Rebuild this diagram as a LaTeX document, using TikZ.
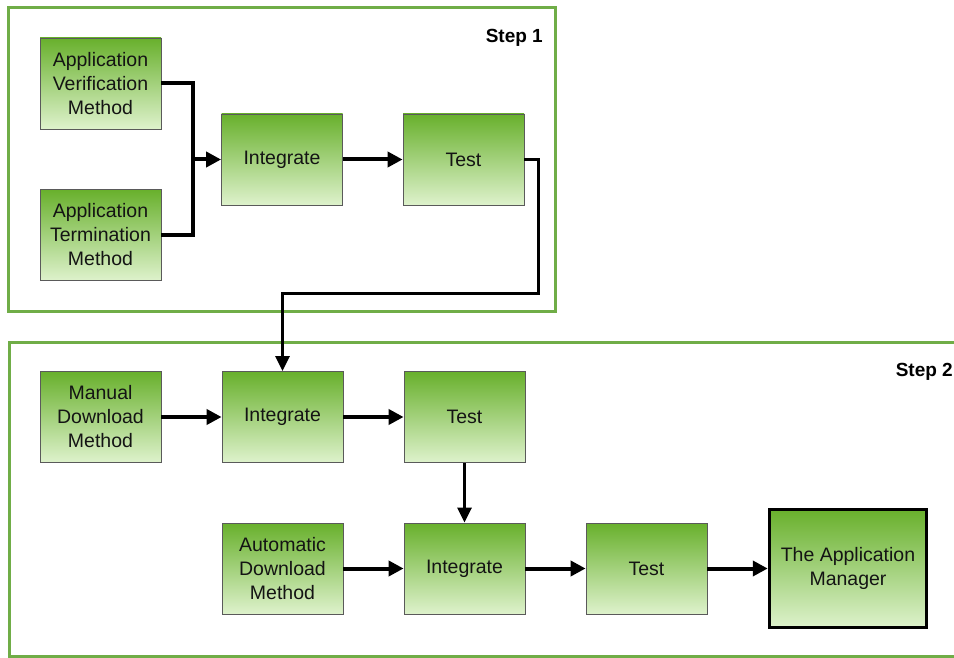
\documentclass[tikz,border=0pt]{standalone}
\usepackage{fontspec}
\setmainfont{Liberation Sans}
\usetikzlibrary{arrows.meta}
\definecolor{framegreen}{RGB}{112,173,71}
\definecolor{boxtop}{RGB}{104,176,44}
\definecolor{boxbottom}{RGB}{222,242,204}
\definecolor{boxedge}{RGB}{90,90,90}
\definecolor{ink}{RGB}{20,20,20}
\tikzset{
  stepbox/.style={rectangle, draw=boxedge, line width=0.8pt,
    top color=boxtop, bottom color=boxbottom,
    minimum width=121pt, minimum height=91pt, inner sep=2pt,
    align=center, text=ink,
    font=\fontsize{19.5}{24}\selectfont},
  goalbox/.style={stepbox, draw=black, line width=3.5pt,
    minimum width=157pt, minimum height=118pt},
  frame/.style={draw=framegreen, line width=3pt},
  steplabel/.style={font=\bfseries\fontsize{19}{21}\selectfont, text=black, inner sep=0pt},
  feed/.style={draw=black, line width=4pt},
  flow/.style={feed, -{Triangle[length=15pt,width=15pt]}},
  link/.style={draw=black, line width=3pt, -{Triangle[length=15pt,width=14pt]}}
}
\begin{document}
\begin{tikzpicture}[x=1pt,y=-1pt]
\useasboundingbox (0,0) rectangle (954,658);

% Step 1 and Step 2 frames
\draw[frame] (8,8) rectangle (555,311);
\draw[frame] (975,342) -- (9,342) -- (9,656) -- (975,656);
\node[steplabel, anchor=north east] (s1) at (543,29) {Step 1};
\node[steplabel, anchor=north east] (s2) at (953,363) {Step 2};

% Step 1 boxes
\node[stepbox] (av) at (100.5,83.5) {Application\\Verification\\Method};
\node[stepbox] (at) at (100.5,235) {Application\\Termination\\Method};
\node[stepbox] (i1) at (282,159.5) {Integrate};
\node[stepbox] (t1) at (463.5,159.5) {Test};

% Step 2 boxes
\node[stepbox] (md) at (100.5,417) {Manual\\Download\\Method};
\node[stepbox] (i2) at (282.5,417) {Integrate};
\node[stepbox] (t2) at (464.5,417) {Test};
\node[stepbox] (ad) at (282.5,568.5) {Automatic\\Download\\Method};
\node[stepbox] (i3) at (464.5,568.5) {Integrate};
\node[stepbox] (t3) at (646.5,568.5) {Test};
\node[goalbox] (am) at (848,568.5) {The Application\\Manager};

% joins and bends
\coordinate (join) at (193,159.5);
\coordinate (bend) at (538.5,293);

% Step 1 connectors
\draw[feed, line join=miter] (av.east) -| (join);
\draw[feed, line join=miter] (at.east) -| (join);
\draw[flow] (join) -- (i1.west);
\draw[flow] (i1.east) -- (t1.west);
\draw[link, line join=miter] (t1.east) -| (bend) -| (i2.north);

% Step 2 connectors
\draw[flow] (md.east) -- (i2.west);
\draw[flow] (i2.east) -- (t2.west);
\draw[link] (t2.south) -- (i3.north);
\draw[flow] (ad.east) -- (i3.west);
\draw[flow] (i3.east) -- (t3.west);
\draw[flow] (t3.east) -- (am.west);
\end{tikzpicture}
\end{document}
